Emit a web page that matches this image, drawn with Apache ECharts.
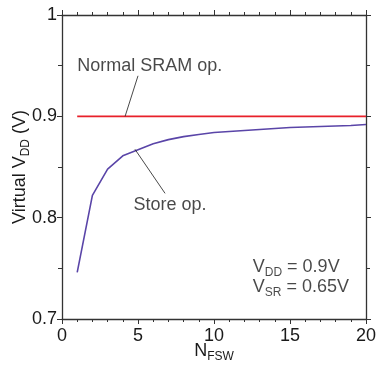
<!DOCTYPE html>
<html>
<head>
<meta charset="utf-8">
<script src="https://cdn.jsdelivr.net/npm/echarts@6/dist/echarts.min.js"></script>
<style>
  html, body { margin: 0; padding: 0; background: #fff; }
  #chart { width: 377px; height: 366px; }
</style>
</head>
<body>
<div id="chart"></div>
<script>
// N_FSW values and virtual VDD
const nFsw = [1, 2, 3, 4, 5, 6, 7, 8, 9, 10, 11, 12, 13, 14, 15, 16, 17, 18, 19, 20];
const storeOp = [0.746, 0.822, 0.848, 0.861, 0.867, 0.873, 0.877, 0.880, 0.882, 0.884,
  0.885, 0.886, 0.887, 0.888, 0.889, 0.8895, 0.890, 0.8905, 0.891, 0.892];
const normalOp = [[1, 0.9], [20, 0.9]];

const xTicks = [0, 5, 10, 15, 20];
const yTicks = ["0.7", "0.8", "0.9", "1"];

// callouts: leader lines and text anchors, in data units
const normalLeader = [[5.0, 0.940], [4.15, 0.9]];
const storeLeader = [[4.8, 0.8675], [6.78, 0.824]];
const normalLabel = [1.0, 0.950, "Normal SRAM op."];
const storeLabel = [4.7, 0.8125, "Store op."];
const condLabel = [12.55, 0.7415, "{t|V}{s|DD}{t| = 0.9V}\n{t|V}{s|SR}{t| = 0.65V}"];

const FONT = "Liberation Sans";
const INK = "#1a1a1a";
const AXIS = "#333";

const chart = echarts.init(document.getElementById("chart"));

const rich = {
  t: { fontFamily: FONT, fontSize: 18, color: INK, lineHeight: 20 },
  s: { fontFamily: FONT, fontSize: 12, color: INK, lineHeight: 20, padding: [12, 0, 0, 0] },
};

function axisParts(min, max, interval, minorSplit, minorLen) {
  return {
    type: "value", min: min, max: max, interval: interval,
    nameMoveOverlap: false,
    axisLine: { show: true, onZero: false, lineStyle: { color: AXIS, width: 1.3 } },
    axisTick: { show: true, inside: false, length: 5, lineStyle: { color: AXIS, width: 1 } },
    minorTick: { show: true, splitNumber: minorSplit, length: minorLen, lineStyle: { color: AXIS, width: 1 } },
    splitLine: { show: false },
    minorSplitLine: { show: false },
  };
}

function textPoint(p) {
  return {
    type: "scatter", symbolSize: 0, silent: true,
    data: [[p[0], p[1]]],
    label: {
      show: true, position: "inside", align: "left", verticalAlign: "middle",
      formatter: p[2], rich: rich,
      fontFamily: FONT, fontSize: 18, color: INK, lineHeight: 20,
    },
  };
}

function leader(pts) {
  return {
    type: "line", data: pts, symbol: "none", silent: true,
    lineStyle: { color: INK, width: 0.8 },
  };
}

chart.setOption({
  animation: false,
  backgroundColor: "#fff",
  grid: { left: 62, right: 11, top: 15, bottom: 47, containLabel: false, outerBoundsMode: "none" },
  xAxis: [
    Object.assign(axisParts(0, 20, 5, 5, 3), {
      position: "bottom",
      name: "{t|N}{s|FSW}", nameLocation: "middle", nameGap: 22,
      nameTextStyle: { rich: rich },
      axisLabel: {
        margin: 8, fontFamily: FONT, fontSize: 18, color: INK,
        formatter: v => xTicks.includes(v) ? String(v) : "",
      },
    }),
    Object.assign(axisParts(0, 20, 5, 5, 3), { position: "top", axisLabel: { show: false } }),
  ],
  yAxis: [
    Object.assign(axisParts(0.7, 1, 0.1, 2, 4), {
      position: "left",
      name: "{t|Virtual V}{s|DD}{t| (V)}", nameLocation: "middle", nameGap: 32, nameRotate: 90,
      nameTextStyle: { rich: rich },
      axisLabel: {
        margin: 5, fontFamily: FONT, fontSize: 18, color: INK,
        formatter: v => yTicks[Math.round((v - 0.7) * 10)],
      },
    }),
    Object.assign(axisParts(0.7, 1, 0.1, 2, 4), { position: "right", axisLabel: { show: false } }),
  ],
  series: [
    {
      name: "Normal SRAM op.", type: "line", data: normalOp, symbol: "none",
      lineStyle: { color: "#e8202a", width: 1.8 },
    },
    {
      name: "Store op.", type: "line", data: nFsw.map((n, i) => [n, storeOp[i]]), symbol: "none",
      lineStyle: { color: "#5a45a8", width: 1.6 },
    },
    leader(normalLeader),
    leader(storeLeader),
    textPoint(normalLabel),
    textPoint(storeLabel),
    textPoint(condLabel),
  ],
});
</script>
</body>
</html>
